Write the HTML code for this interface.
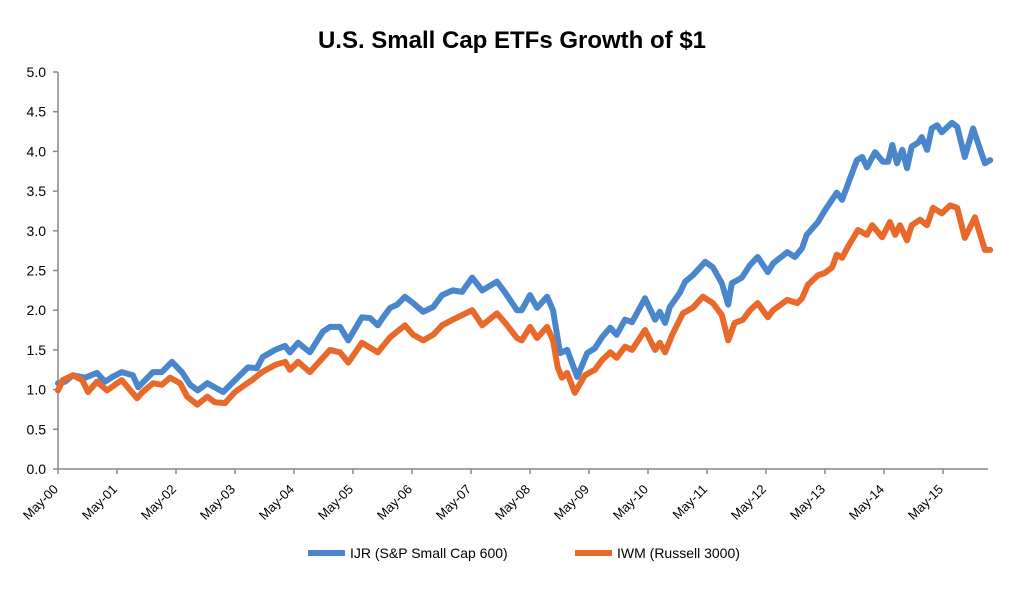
<!DOCTYPE html>
<html><head><meta charset="utf-8"><style>
body{margin:0;background:#fff;width:1024px;height:584px;overflow:hidden}
svg{font-family:"Liberation Sans",Arial,sans-serif}
</style></head><body>
<svg id="chart" width="1024" height="584">
<text x="512" y="48" text-anchor="middle" font-size="24" font-weight="bold" fill="#000">U.S. Small Cap ETFs Growth of $1</text>
<g id="axes"></g>
<g id="series"></g>
<g>
<line x1="308" y1="553" x2="345" y2="553" stroke="#4a86cc" stroke-width="6"/>
<text x="350" y="558" font-size="14" fill="#000">IJR (S&amp;P Small Cap 600)</text>
<line x1="575" y1="553" x2="612" y2="553" stroke="#e8692a" stroke-width="6"/>
<text x="617" y="558" font-size="14" fill="#000">IWM (Russell 3000)</text>
</g>
</svg>
<script>
const yTicks=[0,0.5,1,1.5,2,2.5,3,3.5,4,4.5,5];
const xTickLabels=["May-00","May-01","May-02","May-03","May-04","May-05","May-06","May-07","May-08","May-09","May-10","May-11","May-12","May-13","May-14","May-15"];
const ijrT=[0,0.12,0.25,0.46,0.66,0.80,0.92,1.08,1.27,1.36,1.61,1.76,1.93,2.10,2.24,2.37,2.53,2.80,3.00,3.22,3.37,3.47,3.68,3.85,3.93,4.07,4.27,4.49,4.61,4.78,4.92,5.15,5.29,5.42,5.51,5.63,5.75,5.88,6.02,6.19,6.36,6.51,6.69,6.85,7.02,7.19,7.44,7.58,7.78,7.86,8.00,8.12,8.29,8.39,8.51,8.63,8.80,8.97,9.10,9.22,9.36,9.47,9.61,9.73,9.95,10.12,10.20,10.29,10.37,10.54,10.63,10.76,10.97,11.10,11.25,11.36,11.42,11.59,11.73,11.86,12.03,12.12,12.36,12.49,12.61,12.69,12.88,13.00,13.20,13.29,13.54,13.63,13.71,13.85,13.98,14.07,14.14,14.22,14.31,14.39,14.47,14.58,14.64,14.73,14.81,14.90,14.98,15.15,15.24,15.37,15.51,15.71,15.80];
const ijrV=[1.08,1.10,1.18,1.15,1.21,1.10,1.16,1.22,1.18,1.03,1.22,1.22,1.35,1.22,1.06,0.99,1.08,0.97,1.12,1.28,1.27,1.41,1.50,1.55,1.47,1.59,1.47,1.73,1.79,1.79,1.62,1.91,1.90,1.81,1.91,2.03,2.07,2.17,2.09,1.98,2.04,2.19,2.25,2.23,2.41,2.25,2.36,2.22,2.00,2.00,2.19,2.03,2.17,2.00,1.46,1.50,1.16,1.46,1.52,1.66,1.78,1.69,1.88,1.85,2.15,1.88,1.98,1.84,2.04,2.22,2.36,2.44,2.61,2.54,2.34,2.07,2.34,2.41,2.57,2.67,2.48,2.59,2.73,2.67,2.78,2.95,3.11,3.26,3.48,3.39,3.89,3.93,3.80,3.99,3.87,3.87,4.08,3.85,4.02,3.79,4.06,4.11,4.18,4.02,4.29,4.33,4.24,4.36,4.31,3.93,4.29,3.85,3.89];
const iwmT=[0,0.08,0.25,0.41,0.51,0.66,0.83,1.08,1.34,1.42,1.61,1.76,1.90,2.07,2.19,2.36,2.53,2.66,2.83,3.00,3.17,3.29,3.46,3.68,3.85,3.93,4.07,4.27,4.61,4.78,4.92,5.15,5.42,5.63,5.88,6.02,6.19,6.36,6.51,6.69,7.02,7.19,7.44,7.58,7.78,7.86,8.00,8.12,8.29,8.39,8.47,8.54,8.63,8.76,8.93,9.10,9.22,9.36,9.47,9.61,9.73,9.95,10.12,10.20,10.29,10.41,10.59,10.76,10.93,11.10,11.25,11.36,11.47,11.61,11.73,11.86,12.03,12.12,12.36,12.53,12.61,12.71,12.88,13.00,13.12,13.20,13.29,13.39,13.56,13.71,13.80,13.97,14.10,14.19,14.27,14.39,14.47,14.61,14.73,14.83,14.98,15.12,15.24,15.37,15.54,15.71,15.80];
const iwmV=[0.99,1.12,1.18,1.12,0.97,1.10,0.99,1.12,0.89,0.96,1.08,1.06,1.15,1.08,0.91,0.81,0.91,0.84,0.83,0.97,1.06,1.12,1.22,1.31,1.35,1.25,1.35,1.22,1.50,1.47,1.34,1.59,1.47,1.66,1.81,1.69,1.62,1.69,1.81,1.88,2.00,1.81,1.96,1.84,1.65,1.62,1.79,1.65,1.79,1.62,1.28,1.15,1.21,0.96,1.18,1.25,1.37,1.47,1.40,1.54,1.50,1.75,1.50,1.59,1.47,1.69,1.96,2.03,2.17,2.09,1.94,1.62,1.84,1.88,2.00,2.09,1.91,2.00,2.13,2.09,2.15,2.32,2.44,2.47,2.54,2.70,2.66,2.80,3.01,2.95,3.07,2.92,3.11,2.95,3.07,2.88,3.07,3.14,3.07,3.29,3.22,3.32,3.29,2.91,3.17,2.76,2.76];

const NS="http://www.w3.org/2000/svg";
const X0=58,X1=988,YPX=59,Y0=469,YUNIT=79.4;
const xs=t=>X0+t*YPX, ys=v=>Y0-v*YUNIT;
function mk(tag,attrs,parent){const e=document.createElementNS(NS,tag);for(const k in attrs)e.setAttribute(k,attrs[k]);parent.appendChild(e);return e;}
const axes=document.getElementById('axes');
const yAxis=mk('line',{x1:X0,y1:ys(5),x2:X0,y2:Y0,stroke:'#888','stroke-width':1.5},axes);


const xAxis=mk('line',{x1:X0,y1:Y0,x2:X1,y2:Y0,stroke:'#888','stroke-width':1.5},axes);


yTicks.forEach(v=>{
  mk('line',{x1:X0-5,y1:ys(v),x2:X0,y2:ys(v),stroke:'#888','stroke-width':1.5},axes);
  const t=mk('text',{x:X0-12,y:ys(v)+5,'text-anchor':'end','font-size':14,fill:'#000'},axes);
  t.textContent=v.toFixed(1);
  
  
});
xTickLabels.forEach((lab,i)=>{
  const x=xs(i);
  mk('line',{x1:x,y1:Y0,x2:x,y2:Y0+5,stroke:'#888','stroke-width':1.5},axes);
  const tx=x+1, ty=Y0+21;
  const t=mk('text',{x:tx,y:ty,'text-anchor':'end','font-size':13,fill:'#000',transform:`rotate(-45 ${tx} ${ty})`},axes);
  t.textContent=lab;
  
  
});
const series=document.getElementById('series');
function draw(T,V,color,name){
  const d=T.map((t,i)=>(i?'L':'M')+xs(t).toFixed(1)+','+ys(V[i]).toFixed(1)).join('');
  const p=mk('path',{d:d,fill:'none',stroke:color,'stroke-width':6,'stroke-linejoin':'round','stroke-linecap':'round'},series);
  
  
}
draw(ijrT,ijrV,'#4a86cc','ijr-line');
draw(iwmT,iwmV,'#e8692a','iwm-line');
</script>
</body></html>
